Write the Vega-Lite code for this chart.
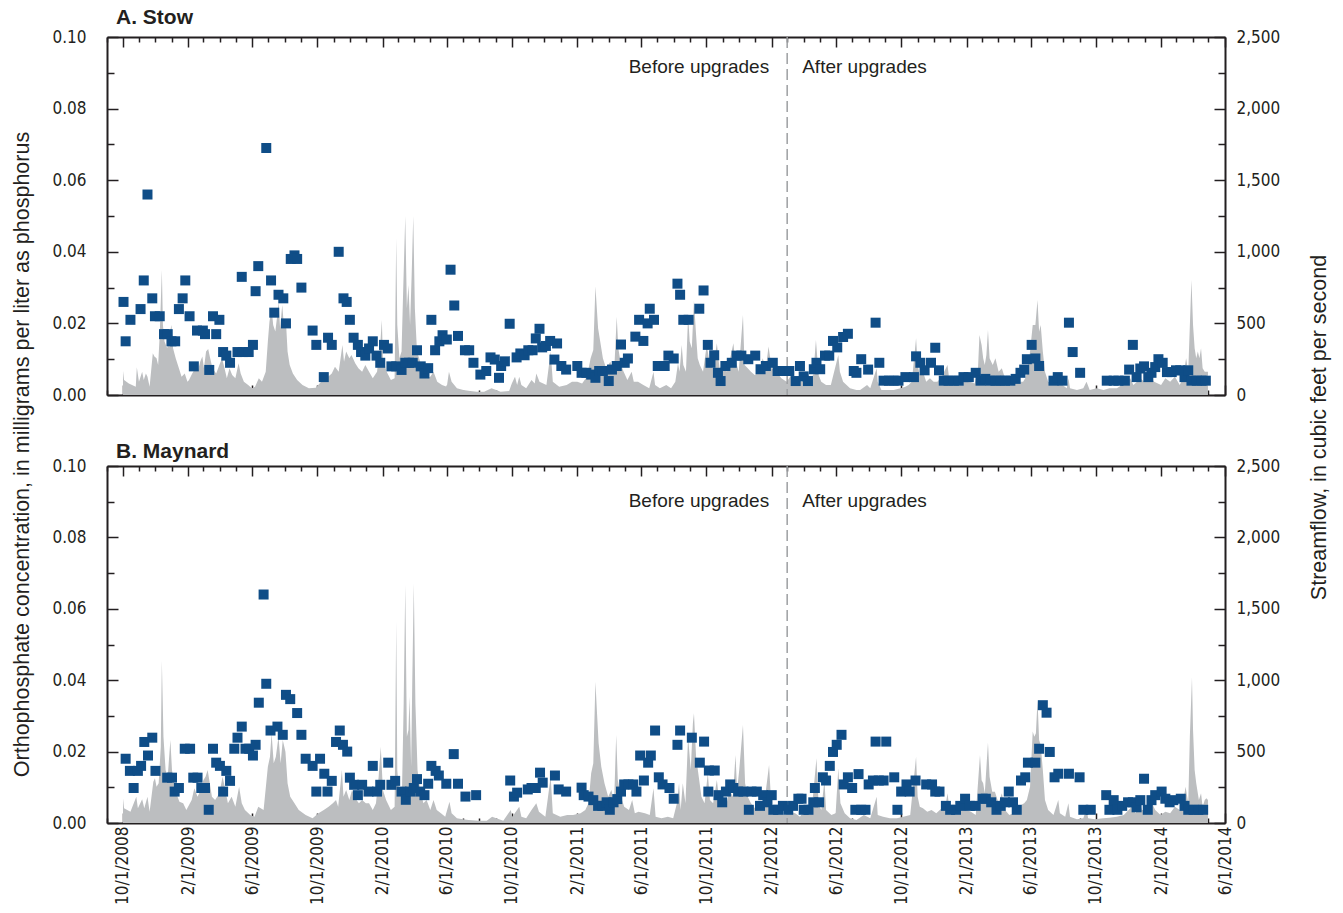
{
"$schema": "https://vega.github.io/schema/vega-lite/v6.json",
"padding": {"left": 11, "top": 7, "right": 5, "bottom": 5},
"background": "white",
"config": {"view": {"stroke": null}, "font": "Liberation Sans"},
"datasets": {
"upg": [{"d": "2012-03-01"}],
"stowC": [
{"d":"2008-10-02","c":0.026},{"d":"2008-10-06","c":0.015},{"d":"2008-10-15","c":0.021},{"d":"2008-11-03","c":0.024},{"d":"2008-11-09","c":0.032},{"d":"2008-11-16","c":0.056},{"d":"2008-11-25","c":0.027},{"d":"2008-11-30","c":0.022},{"d":"2008-12-09","c":0.022},{"d":"2008-12-17","c":0.017},{"d":"2008-12-24","c":0.017},{"d":"2008-12-31","c":0.015},{"d":"2009-01-07","c":0.015},{"d":"2009-01-14","c":0.024},{"d":"2009-01-21","c":0.027},{"d":"2009-01-26","c":0.032},{"d":"2009-02-03","c":0.022},{"d":"2009-02-11","c":0.008},{"d":"2009-02-17","c":0.018},{"d":"2009-02-28","c":0.018},{"d":"2009-03-04","c":0.017},{"d":"2009-03-12","c":0.007},{"d":"2009-03-19","c":0.022},{"d":"2009-03-25","c":0.017},{"d":"2009-03-31","c":0.021},{"d":"2009-04-07","c":0.012},{"d":"2009-04-13","c":0.011},{"d":"2009-04-20","c":0.009},{"d":"2009-05-04","c":0.012},{"d":"2009-05-12","c":0.033},{"d":"2009-05-14","c":0.012},{"d":"2009-05-25","c":0.012},{"d":"2009-06-02","c":0.014},{"d":"2009-06-07","c":0.029},{"d":"2009-06-12","c":0.036},{"d":"2009-06-27","c":0.069},{"d":"2009-07-06","c":0.032},{"d":"2009-07-12","c":0.023},{"d":"2009-07-20","c":0.028},{"d":"2009-07-29","c":0.027},{"d":"2009-08-03","c":0.020},{"d":"2009-08-12","c":0.038},{"d":"2009-08-19","c":0.039},{"d":"2009-08-24","c":0.038},{"d":"2009-09-01","c":0.030},{"d":"2009-09-22","c":0.018},{"d":"2009-09-29","c":0.014},{"d":"2009-10-13","c":0.005},{"d":"2009-10-21","c":0.016},{"d":"2009-10-28","c":0.014},{"d":"2009-11-10","c":0.040},{"d":"2009-11-19","c":0.027},{"d":"2009-11-25","c":0.026},{"d":"2009-12-01","c":0.021},{"d":"2009-12-08","c":0.016},{"d":"2009-12-16","c":0.014},{"d":"2009-12-22","c":0.012},{"d":"2009-12-30","c":0.011},{"d":"2010-01-06","c":0.013},{"d":"2010-01-13","c":0.015},{"d":"2010-01-20","c":0.011},{"d":"2010-01-27","c":0.009},{"d":"2010-02-03","c":0.014},{"d":"2010-02-10","c":0.013},{"d":"2010-02-17","c":0.008},{"d":"2010-02-26","c":0.008},{"d":"2010-03-08","c":0.007},{"d":"2010-03-15","c":0.009},{"d":"2010-03-22","c":0.009},{"d":"2010-03-29","c":0.009},{"d":"2010-04-06","c":0.0125},{"d":"2010-04-13","c":0.008},{"d":"2010-04-20","c":0.006},{"d":"2010-04-27","c":0.0075},{"d":"2010-05-03","c":0.021},{"d":"2010-05-10","c":0.0125},{"d":"2010-05-18","c":0.015},{"d":"2010-05-24","c":0.0167},{"d":"2010-06-01","c":0.0155},{"d":"2010-06-08","c":0.035},{"d":"2010-06-15","c":0.025},{"d":"2010-06-22","c":0.0165},{"d":"2010-07-05","c":0.0125},{"d":"2010-07-13","c":0.0125},{"d":"2010-07-21","c":0.009},{"d":"2010-08-03","c":0.0057},
{"d":"2010-08-14","c":0.0067},{"d":"2010-08-22","c":0.0105},{"d":"2010-08-30","c":0.0099},{"d":"2010-09-07","c":0.0048},{"d":"2010-09-11","c":0.0081},{"d":"2010-09-18","c":0.0094},{"d":"2010-09-27","c":0.0199},{"d":"2010-10-10","c":0.0105},{"d":"2010-10-17","c":0.0116},{"d":"2010-10-25","c":0.0111},{"d":"2010-11-01","c":0.0125},{"d":"2010-11-09","c":0.0125},{"d":"2010-11-15","c":0.0158},{"d":"2010-11-22","c":0.0185},{"d":"2010-11-27","c":0.0133},{"d":"2010-12-04","c":0.0137},{"d":"2010-12-12","c":0.0151},{"d":"2010-12-20","c":0.0099},{"d":"2010-12-25","c":0.0144},{"d":"2011-01-02","c":0.0081},{"d":"2011-01-11","c":0.0071},{"d":"2011-02-01","c":0.0081},{"d":"2011-02-09","c":0.0062},{"d":"2011-02-18","c":0.0062},{"d":"2011-02-27","c":0.0057},{"d":"2011-03-07","c":0.0048},{"d":"2011-03-14","c":0.0067},{"d":"2011-03-21","c":0.0067},{"d":"2011-04-01","c":0.0039},{"d":"2011-04-07","c":0.0071},{"d":"2011-04-16","c":0.0081},{"d":"2011-04-24","c":0.0141},{"d":"2011-05-01","c":0.0090},{"d":"2011-05-07","c":0.0102},{"d":"2011-05-21","c":0.0163},{"d":"2011-05-28","c":0.021},{"d":"2011-06-05","c":0.0151},{"d":"2011-06-13","c":0.020},{"d":"2011-06-17","c":0.0241},{"d":"2011-06-25","c":0.021},{"d":"2011-07-02","c":0.0081},{"d":"2011-07-15","c":0.0081},{"d":"2011-07-22","c":0.011},{"d":"2011-08-01","c":0.0102},{"d":"2011-08-08","c":0.0311},{"d":"2011-08-13","c":0.028},{"d":"2011-08-19","c":0.021},{"d":"2011-08-29","c":0.021},{"d":"2011-09-18","c":0.0241},{"d":"2011-09-26","c":0.0292},{"d":"2011-10-04","c":0.014},{"d":"2011-10-09","c":0.009},{"d":"2011-10-16","c":0.0111},{"d":"2011-10-23","c":0.0062},{"d":"2011-10-28","c":0.0039},{"d":"2011-11-06","c":0.0081},{"d":"2011-11-18","c":0.009},{"d":"2011-11-27","c":0.011},{"d":"2011-12-06","c":0.011},{"d":"2011-12-19","c":0.010},{"d":"2012-01-01","c":0.011},{"d":"2012-01-11","c":0.0072},{"d":"2012-01-21","c":0.0081},{"d":"2012-02-03","c":0.009},{"d":"2012-02-12","c":0.0067},{"d":"2012-02-23","c":0.0067},{"d":"2012-03-05","c":0.0067},{"d":"2012-03-17","c":0.0039},{"d":"2012-03-25","c":0.0081},{"d":"2012-04-01","c":0.0052},{"d":"2012-04-09","c":0.0039},{"d":"2012-04-20","c":0.0072},{"d":"2012-04-25","c":0.009},{"d":"2012-05-02","c":0.0072},{"d":"2012-05-11","c":0.011},{"d":"2012-05-19","c":0.011},{"d":"2012-05-26","c":0.0151},{"d":"2012-06-03","c":0.0133},{"d":"2012-06-14","c":0.0162},{"d":"2012-06-23","c":0.0171},{"d":"2012-07-04","c":0.0067},{"d":"2012-07-09","c":0.0062},{"d":"2012-07-18","c":0.010},
{"d":"2012-07-31","c":0.0071},{"d":"2012-08-14","c":0.0202},{"d":"2012-08-21","c":0.009},{"d":"2012-08-29","c":0.004},{"d":"2012-09-08","c":0.004},{"d":"2012-09-17","c":0.004},{"d":"2012-09-26","c":0.004},{"d":"2012-10-09","c":0.005},{"d":"2012-10-25","c":0.005},{"d":"2012-10-29","c":0.0108},{"d":"2012-11-06","c":0.009},{"d":"2012-11-14","c":0.0069},{"d":"2012-11-26","c":0.009},{"d":"2012-12-04","c":0.0132},{"d":"2012-12-11","c":0.0069},{"d":"2012-12-20","c":0.004},{"d":"2012-12-29","c":0.004},{"d":"2013-01-08","c":0.004},{"d":"2013-01-17","c":0.004},{"d":"2013-01-26","c":0.005},{"d":"2013-02-05","c":0.005},{"d":"2013-02-18","c":0.0062},{"d":"2013-02-27","c":0.004},{"d":"2013-03-08","c":0.0045},{"d":"2013-03-17","c":0.004},{"d":"2013-03-27","c":0.004},{"d":"2013-04-05","c":0.004},{"d":"2013-04-14","c":0.004},{"d":"2013-04-24","c":0.004},{"d":"2013-05-04","c":0.0045},{"d":"2013-05-13","c":0.0062},{"d":"2013-05-20","c":0.0071},{"d":"2013-05-25","c":0.010},{"d":"2013-06-03","c":0.014},{"d":"2013-06-10","c":0.0102},{"d":"2013-06-17","c":0.0081},{"d":"2013-07-14","c":0.004},{"d":"2013-07-22","c":0.005},{"d":"2013-07-31","c":0.004},{"d":"2013-08-12","c":0.0202},{"d":"2013-08-19","c":0.012},{"d":"2013-09-02","c":0.0062},{"d":"2013-10-22","c":0.004},{"d":"2013-11-04","c":0.004},{"d":"2013-11-13","c":0.004},{"d":"2013-11-25","c":0.004},{"d":"2013-12-03","c":0.0071},{"d":"2013-12-10","c":0.014},{"d":"2013-12-17","c":0.005},{"d":"2013-12-24","c":0.0074},{"d":"2013-12-31","c":0.008},{"d":"2014-01-08","c":0.005},{"d":"2014-01-14","c":0.0062},{"d":"2014-01-21","c":0.0078},{"d":"2014-01-27","c":0.010},{"d":"2014-02-04","c":0.009},{"d":"2014-02-12","c":0.0064},{"d":"2014-02-21","c":0.0064},{"d":"2014-03-01","c":0.0069},{"d":"2014-03-09","c":0.0069},{"d":"2014-03-17","c":0.005},{"d":"2014-03-24","c":0.0069},{"d":"2014-03-30","c":0.004},{"d":"2014-04-09","c":0.004},{"d":"2014-04-18","c":0.004},{"d":"2014-04-26","c":0.004}
],
"stowQ": [
{"d":"2008-10-01","q":170},{"d":"2008-10-03","q":105},{"d":"2008-10-12","q":80},{"d":"2008-10-25","q":58},{"d":"2008-10-27","q":193},{"d":"2008-10-31","q":93},{"d":"2008-11-06","q":163},{"d":"2008-11-09","q":105},{"d":"2008-11-13","q":151},{"d":"2008-11-16","q":128},{"d":"2008-11-20","q":58},{"d":"2008-11-26","q":291},{"d":"2008-11-29","q":268},{"d":"2008-12-03","q":256},{"d":"2008-12-06","q":210},{"d":"2008-12-09","q":420},{"d":"2008-12-13","q":873},{"d":"2008-12-15","q":489},{"d":"2008-12-18","q":373},{"d":"2008-12-23","q":326},{"d":"2008-12-27","q":419},{"d":"2008-12-31","q":489},{"d":"2009-01-03","q":326},{"d":"2009-01-08","q":256},{"d":"2009-01-14","q":186},{"d":"2009-01-19","q":128},{"d":"2009-01-25","q":151},{"d":"2009-01-30","q":93},{"d":"2009-02-02","q":105},{"d":"2009-02-08","q":151},{"d":"2009-02-10","q":163},{"d":"2009-02-14","q":210},{"d":"2009-02-19","q":175},{"d":"2009-02-23","q":233},{"d":"2009-02-27","q":268},{"d":"2009-03-02","q":186},{"d":"2009-03-06","q":303},{"d":"2009-03-10","q":321},{"d":"2009-03-13","q":268},{"d":"2009-03-18","q":186},{"d":"2009-03-25","q":151},{"d":"2009-03-31","q":210},{"d":"2009-04-05","q":256},{"d":"2009-04-09","q":198},{"d":"2009-04-14","q":117},{"d":"2009-04-19","q":186},{"d":"2009-04-24","q":140},{"d":"2009-04-30","q":117},{"d":"2009-05-06","q":221},{"d":"2009-05-10","q":151},{"d":"2009-05-16","q":93},{"d":"2009-05-24","q":70},{"d":"2009-05-31","q":47},{"d":"2009-06-06","q":58},{"d":"2009-06-13","q":117},{"d":"2009-06-19","q":93},{"d":"2009-06-26","q":163},{"d":"2009-06-30","q":373},{"d":"2009-07-03","q":512},{"d":"2009-07-07","q":605},{"d":"2009-07-10","q":489},{"d":"2009-07-14","q":443},{"d":"2009-07-17","q":536},{"d":"2009-07-20","q":652},{"d":"2009-07-23","q":466},{"d":"2009-07-27","q":629},{"d":"2009-07-30","q":489},{"d":"2009-08-03","q":512},{"d":"2009-08-06","q":303},{"d":"2009-08-10","q":210},{"d":"2009-08-16","q":151},{"d":"2009-08-24","q":105},{"d":"2009-09-03","q":70},{"d":"2009-09-15","q":47},{"d":"2009-09-28","q":51},{"d":"2009-10-08","q":93},{"d":"2009-10-14","q":117},{"d":"2009-10-21","q":128},{"d":"2009-10-28","q":151},{"d":"2009-11-03","q":198},{"d":"2009-11-10","q":163},{"d":"2009-11-17","q":349},{"d":"2009-11-20","q":233},{"d":"2009-11-24","q":303},{"d":"2009-11-30","q":256},{"d":"2009-12-04","q":280},{"d":"2009-12-11","q":221},{"d":"2009-12-17","q":186},{"d":"2009-12-24","q":163},{"d":"2009-12-30","q":210},{"d":"2010-01-06","q":163},{"d":"2010-01-13","q":117},{"d":"2010-01-21","q":163},{"d":"2010-01-27","q":349},{"d":"2010-01-30","q":524},{"d":"2010-02-01","q":256},{"d":"2010-02-08","q":163},{"d":"2010-02-16","q":105},{"d":"2010-02-23","q":117},{"d":"2010-02-26","q":1095},{"d":"2010-02-28","q":489},{"d":"2010-03-04","q":256},{"d":"2010-03-08","q":303},{"d":"2010-03-11","q":722},{"d":"2010-03-15","q":1250},{"d":"2010-03-18","q":605},{"d":"2010-03-21","q":768},{"d":"2010-03-24","q":489},{"d":"2010-03-27","q":838},{"d":"2010-03-30","q":1250},{"d":"2010-04-02","q":605},{"d":"2010-04-06","q":303},{"d":"2010-04-12","q":233},{"d":"2010-04-18","q":163},{"d":"2010-04-24","q":117},{"d":"2010-05-01","q":128},{"d":"2010-05-07","q":163},{"d":"2010-05-14","q":93},{"d":"2010-05-23","q":70},{"d":"2010-06-01","q":58},{"d":"2010-06-05","q":163},{"d":"2010-06-10","q":93},{"d":"2010-06-20","q":47},{"d":"2010-07-02","q":35},{"d":"2010-07-15","q":28},{"d":"2010-07-27","q":23},
{"d":"2010-08-10","q":23},{"d":"2010-08-24","q":47},{"d":"2010-09-10","q":23},{"d":"2010-09-26","q":28},{"d":"2010-10-01","q":81},{"d":"2010-10-07","q":128},{"d":"2010-10-11","q":70},{"d":"2010-10-15","q":128},{"d":"2010-10-19","q":70},{"d":"2010-10-28","q":47},{"d":"2010-11-07","q":105},{"d":"2010-11-13","q":81},{"d":"2010-11-16","q":151},{"d":"2010-11-22","q":93},{"d":"2010-12-05","q":70},{"d":"2010-12-13","q":303},{"d":"2010-12-17","q":93},{"d":"2010-12-29","q":58},{"d":"2011-01-12","q":70},{"d":"2011-01-22","q":93},{"d":"2011-02-01","q":93},{"d":"2011-02-10","q":81},{"d":"2011-02-19","q":128},{"d":"2011-02-26","q":256},{"d":"2011-03-03","q":314},{"d":"2011-03-07","q":760},{"d":"2011-03-10","q":582},{"d":"2011-03-12","q":466},{"d":"2011-03-16","q":373},{"d":"2011-03-21","q":256},{"d":"2011-03-27","q":186},{"d":"2011-04-04","q":233},{"d":"2011-04-11","q":151},{"d":"2011-04-16","q":547},{"d":"2011-04-19","q":326},{"d":"2011-04-24","q":210},{"d":"2011-04-29","q":163},{"d":"2011-05-06","q":105},{"d":"2011-05-14","q":163},{"d":"2011-05-18","q":93},{"d":"2011-05-26","q":93},{"d":"2011-06-05","q":70},{"d":"2011-06-16","q":47},{"d":"2011-06-24","q":163},{"d":"2011-06-27","q":70},{"d":"2011-07-06","q":47},{"d":"2011-07-18","q":70},{"d":"2011-07-27","q":47},{"d":"2011-08-04","q":93},{"d":"2011-08-09","q":221},{"d":"2011-08-12","q":163},{"d":"2011-08-16","q":349},{"d":"2011-08-19","q":210},{"d":"2011-08-24","q":163},{"d":"2011-08-28","q":559},{"d":"2011-08-31","q":373},{"d":"2011-09-04","q":326},{"d":"2011-09-08","q":660},{"d":"2011-09-12","q":419},{"d":"2011-09-15","q":256},{"d":"2011-09-19","q":210},{"d":"2011-09-25","q":163},{"d":"2011-10-02","q":349},{"d":"2011-10-08","q":210},{"d":"2011-10-14","q":186},{"d":"2011-10-21","q":361},{"d":"2011-10-26","q":186},{"d":"2011-11-02","q":210},{"d":"2011-11-09","q":163},{"d":"2011-11-15","q":256},{"d":"2011-11-21","q":361},{"d":"2011-11-24","q":256},{"d":"2011-12-01","q":163},{"d":"2011-12-09","q":559},{"d":"2011-12-12","q":210},{"d":"2011-12-18","q":186},{"d":"2011-12-24","q":163},{"d":"2011-12-31","q":140},{"d":"2012-01-09","q":163},{"d":"2012-01-15","q":256},{"d":"2012-01-21","q":186},{"d":"2012-01-26","q":338},{"d":"2012-02-01","q":186},{"d":"2012-02-10","q":163},{"d":"2012-02-19","q":117},{"d":"2012-02-29","q":93},{"d":"2012-03-09","q":140},{"d":"2012-03-18","q":117},{"d":"2012-03-28","q":93},{"d":"2012-04-07","q":163},{"d":"2012-04-13","q":117},{"d":"2012-04-19","q":140},{"d":"2012-04-24","q":384},{"d":"2012-04-29","q":140},{"d":"2012-05-04","q":93},{"d":"2012-05-13","q":70},{"d":"2012-05-22","q":70},{"d":"2012-06-05","q":279},{"d":"2012-06-08","q":163},{"d":"2012-06-14","q":93},{"d":"2012-06-27","q":47},
{"d":"2012-07-09","q":35},{"d":"2012-07-16","q":35},{"d":"2012-07-29","q":70},{"d":"2012-08-04","q":47},{"d":"2012-08-16","q":186},{"d":"2012-08-18","q":93},{"d":"2012-08-25","q":35},{"d":"2012-09-04","q":35},{"d":"2012-09-17","q":35},{"d":"2012-09-30","q":47},{"d":"2012-10-09","q":58},{"d":"2012-10-15","q":70},{"d":"2012-10-21","q":93},{"d":"2012-10-29","q":396},{"d":"2012-11-01","q":210},{"d":"2012-11-05","q":140},{"d":"2012-11-11","q":163},{"d":"2012-11-17","q":93},{"d":"2012-11-24","q":117},{"d":"2012-12-01","q":93},{"d":"2012-12-08","q":93},{"d":"2012-12-16","q":128},{"d":"2012-12-27","q":210},{"d":"2012-12-30","q":117},{"d":"2013-01-07","q":81},{"d":"2013-01-19","q":93},{"d":"2013-01-27","q":163},{"d":"2013-02-01","q":105},{"d":"2013-02-07","q":93},{"d":"2013-02-16","q":81},{"d":"2013-02-22","q":163},{"d":"2013-02-25","q":419},{"d":"2013-03-01","q":349},{"d":"2013-03-04","q":256},{"d":"2013-03-07","q":210},{"d":"2013-03-10","q":280},{"d":"2013-03-13","q":454},{"d":"2013-03-16","q":256},{"d":"2013-03-19","q":233},{"d":"2013-03-22","q":210},{"d":"2013-03-27","q":256},{"d":"2013-04-02","q":163},{"d":"2013-04-08","q":186},{"d":"2013-04-12","q":140},{"d":"2013-04-17","q":93},{"d":"2013-04-24","q":70},{"d":"2013-04-30","q":93},{"d":"2013-05-06","q":117},{"d":"2013-05-12","q":93},{"d":"2013-05-18","q":93},{"d":"2013-05-22","q":117},{"d":"2013-05-26","q":163},{"d":"2013-05-31","q":303},{"d":"2013-06-05","q":489},{"d":"2013-06-10","q":489},{"d":"2013-06-14","q":664},{"d":"2013-06-17","q":442},{"d":"2013-06-20","q":489},{"d":"2013-06-24","q":303},{"d":"2013-06-28","q":163},{"d":"2013-07-04","q":93},{"d":"2013-07-14","q":70},{"d":"2013-07-23","q":140},{"d":"2013-07-27","q":81},{"d":"2013-08-08","q":47},{"d":"2013-08-11","q":117},{"d":"2013-08-14","q":47},{"d":"2013-08-27","q":35},{"d":"2013-09-08","q":47},{"d":"2013-09-14","q":93},{"d":"2013-09-20","q":35},{"d":"2013-10-03","q":47},{"d":"2013-10-16","q":35},{"d":"2013-10-27","q":47},{"d":"2013-11-10","q":47},{"d":"2013-11-29","q":93},{"d":"2013-12-05","q":117},{"d":"2013-12-11","q":70},{"d":"2013-12-18","q":93},{"d":"2013-12-24","q":117},{"d":"2013-12-31","q":93},{"d":"2014-01-06","q":163},{"d":"2014-01-12","q":128},{"d":"2014-01-19","q":93},{"d":"2014-02-01","q":70},{"d":"2014-02-09","q":117},{"d":"2014-02-18","q":93},{"d":"2014-02-27","q":128},{"d":"2014-03-08","q":70},{"d":"2014-03-14","q":117},{"d":"2014-03-20","q":256},{"d":"2014-03-24","q":163},{"d":"2014-03-30","q":803},{"d":"2014-04-02","q":489},{"d":"2014-04-05","q":326},{"d":"2014-04-08","q":256},{"d":"2014-04-11","q":303},{"d":"2014-04-14","q":256},{"d":"2014-04-17","q":326},{"d":"2014-04-20","q":186},{"d":"2014-04-24","q":163},{"d":"2014-04-28","q":163},{"d":"2014-04-30","q":163}
],
"mayC": [
{"d":"2008-10-06","c":0.018},{"d":"2008-10-14","c":0.0146},{"d":"2008-10-21","c":0.0098},{"d":"2008-10-29","c":0.0146},{"d":"2008-11-04","c":0.016},{"d":"2008-11-10","c":0.0227},{"d":"2008-11-17","c":0.0189},{"d":"2008-11-25","c":0.0239},{"d":"2008-12-01","c":0.0146},{"d":"2008-12-23","c":0.0127},{"d":"2009-01-01","c":0.0127},{"d":"2009-01-06","c":0.0088},{"d":"2009-01-14","c":0.0098},{"d":"2009-01-25","c":0.0208},{"d":"2009-02-04","c":0.0208},{"d":"2009-02-10","c":0.0127},{"d":"2009-02-18","c":0.0127},{"d":"2009-02-25","c":0.0098},{"d":"2009-03-04","c":0.0098},{"d":"2009-03-11","c":0.0037},{"d":"2009-03-19","c":0.0208},{"d":"2009-03-25","c":0.0169},{"d":"2009-04-01","c":0.016},{"d":"2009-04-07","c":0.0088},{"d":"2009-04-13","c":0.0146},{"d":"2009-04-20","c":0.0118},{"d":"2009-04-28","c":0.0208},{"d":"2009-05-04","c":0.0239},{"d":"2009-05-12","c":0.027},{"d":"2009-05-19","c":0.0208},{"d":"2009-05-26","c":0.0208},{"d":"2009-06-02","c":0.0189},{"d":"2009-06-07","c":0.0219},{"d":"2009-06-13","c":0.0337},{"d":"2009-06-22","c":0.064},{"d":"2009-06-27","c":0.039},{"d":"2009-07-05","c":0.0259},{"d":"2009-07-18","c":0.027},{"d":"2009-07-28","c":0.0247},{"d":"2009-08-03","c":0.0359},{"d":"2009-08-11","c":0.0347},{"d":"2009-08-24","c":0.0308},{"d":"2009-09-01","c":0.0247},{"d":"2009-09-09","c":0.018},{"d":"2009-09-22","c":0.016},{"d":"2009-09-29","c":0.0088},{"d":"2009-10-06","c":0.018},{"d":"2009-10-14","c":0.0138},{"d":"2009-10-20","c":0.0088},{"d":"2009-10-28","c":0.0118},{"d":"2009-11-05","c":0.0227},{"d":"2009-11-12","c":0.0259},{"d":"2009-11-18","c":0.0219},{"d":"2009-11-26","c":0.020},{"d":"2009-12-01","c":0.0127},{"d":"2009-12-09","c":0.0107},{"d":"2009-12-16","c":0.0078},{"d":"2009-12-24","c":0.0107},{"d":"2010-01-05","c":0.0088},{"d":"2010-01-13","c":0.016},{"d":"2010-01-21","c":0.0088},{"d":"2010-01-27","c":0.0107},{"d":"2010-02-11","c":0.0169},{"d":"2010-02-17","c":0.0107},{"d":"2010-02-24","c":0.0118},{"d":"2010-03-08","c":0.0088},{"d":"2010-03-16","c":0.0065},{"d":"2010-03-24","c":0.0088},{"d":"2010-03-31","c":0.0098},{"d":"2010-04-06","c":0.0123},{"d":"2010-04-12","c":0.0088},{"d":"2010-04-20","c":0.0078},{"d":"2010-04-27","c":0.011},{"d":"2010-05-03","c":0.016},{"d":"2010-05-11","c":0.0146},{"d":"2010-05-17","c":0.0133},{"d":"2010-05-31","c":0.011},{"d":"2010-06-14","c":0.0193},{"d":"2010-06-22","c":0.011},{"d":"2010-07-06","c":0.0074},{"d":"2010-07-26","c":0.0078},
{"d":"2010-09-28","c":0.0119},{"d":"2010-10-05","c":0.0074},{"d":"2010-10-11","c":0.0085},{"d":"2010-10-31","c":0.0094},{"d":"2010-11-07","c":0.0098},{"d":"2010-11-15","c":0.0098},{"d":"2010-11-23","c":0.0141},{"d":"2010-11-28","c":0.0113},{"d":"2010-12-21","c":0.0133},{"d":"2010-12-28","c":0.0094},{"d":"2011-01-11","c":0.0088},{"d":"2011-02-09","c":0.0099},{"d":"2011-02-13","c":0.0078},{"d":"2011-02-22","c":0.0074},{"d":"2011-03-03","c":0.0064},{"d":"2011-03-12","c":0.0048},{"d":"2011-03-20","c":0.0048},{"d":"2011-03-28","c":0.0058},{"d":"2011-04-03","c":0.0037},{"d":"2011-04-10","c":0.0058},{"d":"2011-04-17","c":0.0067},{"d":"2011-04-24","c":0.0088},{"d":"2011-04-30","c":0.0108},{"d":"2011-05-08","c":0.0108},{"d":"2011-05-17","c":0.0108},{"d":"2011-05-23","c":0.0088},{"d":"2011-05-30","c":0.0189},{"d":"2011-06-06","c":0.0119},{"d":"2011-06-14","c":0.0169},{"d":"2011-06-19","c":0.0189},{"d":"2011-06-27","c":0.0259},{"d":"2011-07-04","c":0.0128},{"d":"2011-07-11","c":0.0108},{"d":"2011-07-24","c":0.0098},{"d":"2011-08-01","c":0.0068},{"d":"2011-08-08","c":0.0219},{"d":"2011-08-13","c":0.0259},{"d":"2011-09-04","c":0.0239},{"d":"2011-09-19","c":0.0169},{"d":"2011-09-27","c":0.0228},{"d":"2011-10-05","c":0.0088},{"d":"2011-10-06","c":0.0147},{"d":"2011-10-17","c":0.0147},{"d":"2011-10-24","c":0.0078},{"d":"2011-10-31","c":0.0058},{"d":"2011-11-07","c":0.0088},{"d":"2011-11-15","c":0.0108},{"d":"2011-11-21","c":0.0098},{"d":"2011-11-30","c":0.0088},{"d":"2011-12-10","c":0.0088},{"d":"2011-12-20","c":0.0037},{"d":"2011-12-25","c":0.0088},{"d":"2012-01-04","c":0.0088},{"d":"2012-01-10","c":0.0048},{"d":"2012-01-16","c":0.0078},{"d":"2012-01-24","c":0.0058},{"d":"2012-02-01","c":0.0078},{"d":"2012-02-04","c":0.0037},{"d":"2012-02-13","c":0.0037},{"d":"2012-02-22","c":0.0048},{"d":"2012-03-03","c":0.0037},{"d":"2012-03-12","c":0.0048},{"d":"2012-03-22","c":0.0068},{"d":"2012-03-28","c":0.0068},{"d":"2012-04-01","c":0.0037},{"d":"2012-04-10","c":0.0037},{"d":"2012-04-19","c":0.0058},{"d":"2012-04-22","c":0.0098},{"d":"2012-04-30","c":0.0058},{"d":"2012-05-07","c":0.0128},{"d":"2012-05-13","c":0.0119},{"d":"2012-05-20","c":0.016},{"d":"2012-05-26","c":0.0199},{"d":"2012-06-02","c":0.0219},{"d":"2012-06-11","c":0.0247},{"d":"2012-06-15","c":0.0108},{"d":"2012-06-23","c":0.0128},{"d":"2012-07-01","c":0.0098},{"d":"2012-07-07","c":0.0037},{"d":"2012-07-13","c":0.0137},{"d":"2012-07-18","c":0.0037},{"d":"2012-07-26","c":0.0037},
{"d":"2012-08-01","c":0.0108},{"d":"2012-08-09","c":0.0119},{"d":"2012-08-14","c":0.0228},{"d":"2012-08-20","c":0.0119},{"d":"2012-08-29","c":0.0119},{"d":"2012-09-03","c":0.0228},{"d":"2012-09-18","c":0.0128},{"d":"2012-09-24","c":0.0037},{"d":"2012-10-01","c":0.0088},{"d":"2012-10-11","c":0.0108},{"d":"2012-10-17","c":0.0088},{"d":"2012-10-28","c":0.0119},{"d":"2012-11-17","c":0.0108},{"d":"2012-11-28","c":0.0108},{"d":"2012-12-04","c":0.0088},{"d":"2012-12-12","c":0.0088},{"d":"2012-12-24","c":0.0048},{"d":"2013-01-01","c":0.0037},{"d":"2013-01-12","c":0.0037},{"d":"2013-01-20","c":0.0048},{"d":"2013-01-29","c":0.0068},{"d":"2013-02-07","c":0.0048},{"d":"2013-02-18","c":0.0048},{"d":"2013-03-03","c":0.0068},{"d":"2013-03-09","c":0.0068},{"d":"2013-03-19","c":0.0058},{"d":"2013-03-29","c":0.0037},{"d":"2013-04-06","c":0.0048},{"d":"2013-04-14","c":0.0058},{"d":"2013-04-21","c":0.0088},{"d":"2013-04-29","c":0.0058},{"d":"2013-05-06","c":0.0037},{"d":"2013-05-14","c":0.0119},{"d":"2013-05-22","c":0.0128},{"d":"2013-05-27","c":0.0169},{"d":"2013-06-10","c":0.0169},{"d":"2013-06-17","c":0.0208},{"d":"2013-06-24","c":0.033},{"d":"2013-07-01","c":0.0309},{"d":"2013-07-07","c":0.0199},{"d":"2013-07-16","c":0.0128},{"d":"2013-07-23","c":0.0138},{"d":"2013-08-12","c":0.0138},{"d":"2013-09-01","c":0.0128},{"d":"2013-09-08","c":0.0037},{"d":"2013-09-22","c":0.0037},{"d":"2013-10-21","c":0.0078},{"d":"2013-10-27","c":0.0037},{"d":"2013-11-04","c":0.0064},{"d":"2013-11-11","c":0.0037},{"d":"2013-11-20","c":0.0048},{"d":"2013-12-01","c":0.0058},{"d":"2013-12-10","c":0.0058},{"d":"2013-12-17","c":0.0044},{"d":"2013-12-24","c":0.0064},{"d":"2013-12-31","c":0.0124},{"d":"2014-01-07","c":0.0037},{"d":"2014-01-14","c":0.0064},{"d":"2014-01-21","c":0.0078},{"d":"2014-02-02","c":0.0088},{"d":"2014-02-09","c":0.0068},{"d":"2014-02-17","c":0.0058},{"d":"2014-02-24","c":0.0064},{"d":"2014-03-10","c":0.0068},{"d":"2014-03-17","c":0.0048},{"d":"2014-03-24","c":0.0037},{"d":"2014-04-03","c":0.0037},{"d":"2014-04-12","c":0.0037},{"d":"2014-04-21","c":0.0037}
],
"mayQ": [
{"d":"2008-10-01","q":173},{"d":"2008-10-03","q":103},{"d":"2008-10-15","q":79},{"d":"2008-10-26","q":184},{"d":"2008-10-29","q":103},{"d":"2008-11-06","q":166},{"d":"2008-11-10","q":103},{"d":"2008-11-16","q":184},{"d":"2008-11-20","q":79},{"d":"2008-11-27","q":289},{"d":"2008-11-30","q":313},{"d":"2008-12-03","q":254},{"d":"2008-12-07","q":278},{"d":"2008-12-11","q":534},{"d":"2008-12-13","q":1137},{"d":"2008-12-16","q":604},{"d":"2008-12-20","q":371},{"d":"2008-12-24","q":324},{"d":"2008-12-29","q":581},{"d":"2009-01-01","q":371},{"d":"2009-01-05","q":278},{"d":"2009-01-09","q":208},{"d":"2009-01-15","q":149},{"d":"2009-01-22","q":138},{"d":"2009-01-28","q":91},{"d":"2009-02-02","q":126},{"d":"2009-02-07","q":161},{"d":"2009-02-12","q":243},{"d":"2009-02-18","q":184},{"d":"2009-02-24","q":231},{"d":"2009-03-01","q":301},{"d":"2009-03-05","q":324},{"d":"2009-03-09","q":371},{"d":"2009-03-12","q":301},{"d":"2009-03-17","q":184},{"d":"2009-03-23","q":161},{"d":"2009-03-31","q":208},{"d":"2009-04-06","q":324},{"d":"2009-04-10","q":254},{"d":"2009-04-16","q":138},{"d":"2009-04-23","q":184},{"d":"2009-04-30","q":114},{"d":"2009-05-07","q":254},{"d":"2009-05-12","q":138},{"d":"2009-05-18","q":91},{"d":"2009-05-28","q":56},{"d":"2009-06-05","q":44},{"d":"2009-06-12","q":114},{"d":"2009-06-22","q":91},{"d":"2009-06-30","q":394},{"d":"2009-07-04","q":464},{"d":"2009-07-07","q":628},{"d":"2009-07-11","q":418},{"d":"2009-07-15","q":464},{"d":"2009-07-20","q":604},{"d":"2009-07-24","q":418},{"d":"2009-07-28","q":581},{"d":"2009-08-02","q":499},{"d":"2009-08-06","q":278},{"d":"2009-08-11","q":184},{"d":"2009-08-19","q":138},{"d":"2009-08-27","q":91},{"d":"2009-09-09","q":56},{"d":"2009-09-22","q":33},{"d":"2009-10-03","q":68},{"d":"2009-10-13","q":91},{"d":"2009-10-22","q":114},{"d":"2009-10-30","q":138},{"d":"2009-11-05","q":161},{"d":"2009-11-09","q":114},{"d":"2009-11-16","q":371},{"d":"2009-11-19","q":184},{"d":"2009-11-24","q":231},{"d":"2009-11-30","q":161},{"d":"2009-12-05","q":231},{"d":"2009-12-11","q":173},{"d":"2009-12-18","q":138},{"d":"2009-12-24","q":161},{"d":"2009-12-31","q":138},{"d":"2010-01-06","q":138},{"d":"2010-01-13","q":91},{"d":"2010-01-19","q":138},{"d":"2010-01-24","q":324},{"d":"2010-01-28","q":534},{"d":"2010-02-01","q":231},{"d":"2010-02-07","q":161},{"d":"2010-02-16","q":91},{"d":"2010-02-23","q":114},{"d":"2010-02-26","q":1410},{"d":"2010-02-28","q":371},{"d":"2010-03-04","q":184},{"d":"2010-03-09","q":254},{"d":"2010-03-12","q":838},{"d":"2010-03-15","q":1666},{"d":"2010-03-18","q":604},{"d":"2010-03-21","q":651},{"d":"2010-03-23","q":885},{"d":"2010-03-26","q":394},{"d":"2010-03-28","q":955},{"d":"2010-03-31","q":1678},{"d":"2010-04-03","q":838},{"d":"2010-04-07","q":371},{"d":"2010-04-12","q":231},{"d":"2010-04-18","q":138},{"d":"2010-04-24","q":161},{"d":"2010-05-01","q":91},{"d":"2010-05-07","q":161},{"d":"2010-05-13","q":91},{"d":"2010-05-21","q":68},{"d":"2010-05-29","q":44},{"d":"2010-06-06","q":149},{"d":"2010-06-10","q":68},{"d":"2010-06-20","q":33},{"d":"2010-07-01","q":26},{"d":"2010-07-12","q":21},{"d":"2010-07-31","q":16},
{"d":"2010-08-15","q":16},{"d":"2010-08-25","q":44},{"d":"2010-09-15","q":16},{"d":"2010-09-29","q":91},{"d":"2010-10-02","q":44},{"d":"2010-10-15","q":114},{"d":"2010-10-19","q":44},{"d":"2010-10-28","q":33},{"d":"2010-11-07","q":91},{"d":"2010-11-16","q":138},{"d":"2010-11-21","q":79},{"d":"2010-12-03","q":44},{"d":"2010-12-13","q":324},{"d":"2010-12-17","q":68},{"d":"2010-12-31","q":44},{"d":"2011-01-13","q":56},{"d":"2011-01-24","q":56},{"d":"2011-02-07","q":68},{"d":"2011-02-16","q":91},{"d":"2011-02-22","q":138},{"d":"2011-02-27","q":348},{"d":"2011-03-03","q":418},{"d":"2011-03-07","q":990},{"d":"2011-03-10","q":768},{"d":"2011-03-13","q":558},{"d":"2011-03-18","q":394},{"d":"2011-03-24","q":278},{"d":"2011-03-31","q":184},{"d":"2011-04-06","q":231},{"d":"2011-04-11","q":138},{"d":"2011-04-15","q":616},{"d":"2011-04-18","q":301},{"d":"2011-04-24","q":184},{"d":"2011-04-30","q":114},{"d":"2011-05-09","q":91},{"d":"2011-05-15","q":161},{"d":"2011-05-20","q":68},{"d":"2011-05-27","q":79},{"d":"2011-06-08","q":68},{"d":"2011-06-17","q":56},{"d":"2011-06-24","q":243},{"d":"2011-06-28","q":44},{"d":"2011-07-09","q":33},{"d":"2011-07-21","q":44},{"d":"2011-07-31","q":33},{"d":"2011-08-07","q":138},{"d":"2011-08-11","q":278},{"d":"2011-08-14","q":91},{"d":"2011-08-18","q":278},{"d":"2011-08-23","q":138},{"d":"2011-08-28","q":604},{"d":"2011-09-02","q":371},{"d":"2011-09-06","q":698},{"d":"2011-09-08","q":768},{"d":"2011-09-12","q":464},{"d":"2011-09-17","q":324},{"d":"2011-09-22","q":184},{"d":"2011-09-28","q":138},{"d":"2011-10-04","q":348},{"d":"2011-10-08","q":161},{"d":"2011-10-14","q":138},{"d":"2011-10-21","q":301},{"d":"2011-10-26","q":138},{"d":"2011-11-01","q":161},{"d":"2011-11-07","q":114},{"d":"2011-11-14","q":231},{"d":"2011-11-20","q":184},{"d":"2011-11-25","q":476},{"d":"2011-11-28","q":231},{"d":"2011-12-02","q":371},{"d":"2011-12-09","q":686},{"d":"2011-12-13","q":278},{"d":"2011-12-18","q":184},{"d":"2011-12-24","q":138},{"d":"2012-01-03","q":91},{"d":"2012-01-10","q":114},{"d":"2012-01-18","q":138},{"d":"2012-01-27","q":406},{"d":"2012-01-31","q":138},{"d":"2012-02-07","q":91},{"d":"2012-02-17","q":68},{"d":"2012-02-26","q":56},{"d":"2012-03-06","q":79},{"d":"2012-03-16","q":68},{"d":"2012-03-25","q":44},{"d":"2012-04-03","q":91},{"d":"2012-04-10","q":68},{"d":"2012-04-16","q":91},{"d":"2012-04-25","q":453},{"d":"2012-04-29","q":138},{"d":"2012-05-04","q":91},{"d":"2012-05-10","q":301},{"d":"2012-05-13","q":91},{"d":"2012-05-23","q":56},{"d":"2012-05-31","q":68},{"d":"2012-06-05","q":383},{"d":"2012-06-09","q":138},{"d":"2012-06-17","q":68},{"d":"2012-06-27","q":33},
{"d":"2012-07-09","q":21},{"d":"2012-07-23","q":56},{"d":"2012-08-04","q":33},{"d":"2012-08-16","q":184},{"d":"2012-08-18","q":56},{"d":"2012-08-28","q":44},{"d":"2012-09-10","q":33},{"d":"2012-09-23","q":33},{"d":"2012-10-05","q":44},{"d":"2012-10-18","q":56},{"d":"2012-10-29","q":464},{"d":"2012-11-01","q":184},{"d":"2012-11-05","q":114},{"d":"2012-11-11","q":103},{"d":"2012-11-19","q":79},{"d":"2012-11-27","q":91},{"d":"2012-12-06","q":68},{"d":"2012-12-16","q":103},{"d":"2012-12-22","q":91},{"d":"2012-12-27","q":208},{"d":"2012-12-31","q":91},{"d":"2013-01-10","q":68},{"d":"2013-01-19","q":79},{"d":"2013-01-27","q":138},{"d":"2013-02-01","q":91},{"d":"2013-02-09","q":79},{"d":"2013-02-18","q":56},{"d":"2013-02-26","q":476},{"d":"2013-03-01","q":300},{"d":"2013-03-04","q":278},{"d":"2013-03-07","q":208},{"d":"2013-03-13","q":563},{"d":"2013-03-16","q":324},{"d":"2013-03-21","q":219},{"d":"2013-03-26","q":219},{"d":"2013-04-02","q":138},{"d":"2013-04-08","q":208},{"d":"2013-04-14","q":91},{"d":"2013-04-22","q":56},{"d":"2013-04-30","q":68},{"d":"2013-05-06","q":91},{"d":"2013-05-14","q":126},{"d":"2013-05-20","q":138},{"d":"2013-05-25","q":161},{"d":"2013-05-31","q":254},{"d":"2013-06-05","q":640},{"d":"2013-06-08","q":604},{"d":"2013-06-11","q":628},{"d":"2013-06-14","q":861},{"d":"2013-06-17","q":581},{"d":"2013-06-20","q":546},{"d":"2013-06-24","q":371},{"d":"2013-06-28","q":161},{"d":"2013-07-04","q":91},{"d":"2013-07-14","q":56},{"d":"2013-07-23","q":161},{"d":"2013-07-26","q":68},{"d":"2013-08-05","q":44},{"d":"2013-08-11","q":138},{"d":"2013-08-14","q":44},{"d":"2013-08-27","q":26},{"d":"2013-09-08","q":33},{"d":"2013-09-14","q":103},{"d":"2013-09-17","q":33},{"d":"2013-09-30","q":26},{"d":"2013-10-15","q":33},{"d":"2013-10-27","q":37},{"d":"2013-11-10","q":44},{"d":"2013-11-23","q":56},{"d":"2013-12-02","q":91},{"d":"2013-12-08","q":114},{"d":"2013-12-15","q":68},{"d":"2013-12-23","q":138},{"d":"2013-12-27","q":91},{"d":"2014-01-06","q":91},{"d":"2014-01-12","q":161},{"d":"2014-01-15","q":138},{"d":"2014-01-21","q":91},{"d":"2014-01-31","q":56},{"d":"2014-02-09","q":79},{"d":"2014-02-18","q":68},{"d":"2014-02-27","q":114},{"d":"2014-03-08","q":91},{"d":"2014-03-14","q":138},{"d":"2014-03-19","q":254},{"d":"2014-03-24","q":138},{"d":"2014-03-27","q":604},{"d":"2014-03-31","q":1020},{"d":"2014-04-02","q":651},{"d":"2014-04-05","q":371},{"d":"2014-04-08","q":278},{"d":"2014-04-13","q":161},{"d":"2014-04-17","q":208},{"d":"2014-04-20","q":114},{"d":"2014-04-24","q":161},{"d":"2014-04-27","q":173},{"d":"2014-04-30","q":161}
]
},
"spacing": 71,
"bounds": "flush",
"vconcat": [
{
"width": 1118, "height": 358,
"title": {"text": "A. Stow", "anchor": "start", "frame": "group", "dx": 9, "offset": -17, "baseline": "alphabetic", "font": "Liberation Sans", "fontSize": 21, "fontWeight": "bold", "color": "#231f20"},
"layer": [
{"data": {"name": "stowQ"}, "mark": {"type": "area", "color": "#bcbec0"},
 "encoding": {
  "x": {"field": "d", "type": "temporal", "scale": {"type": "utc", "domain": [{"year": 2008, "month": 9, "date": 1, "utc": true}, {"year": 2014, "month": 6, "date": 1, "utc": true}]},
   "axis": {"orient": "bottom", "tickCount": {"interval": "month", "step": 1}, "tickSize": {"condition": {"test": "indexof([1,5,9], utcmonth(datum.value)) >= 0", "value": -10}, "value": -5}, "labels": false, "domainColor": "#231f20", "domainWidth": 2, "tickColor": "#231f20", "tickWidth": 1.5, "grid": false, "title": null}},
  "y": {"field": "q", "type": "quantitative", "scale": {"domain": [0, 2500], "nice": false},
   "axis": {"orient": "right", "values": [0,250,500,750,1000,1250,1500,1750,2000,2250,2500], "labelExpr": "datum.value % 500 == 0 ? format(datum.value, ',') : ''", "tickSize": {"condition": {"test": "datum.value % 500 == 0", "value": -11}, "value": -7}, "labelPadding": 22, "labelFont": "DejaVu Sans Condensed", "labelFontSize": 17, "labelColor": "#231f20", "labelOverlap": false, "labelFlush": false, "domainColor": "#231f20", "domainWidth": 2, "tickColor": "#231f20", "tickWidth": 1.5, "grid": false,
    "title": "Streamflow, in cubic feet per second", "titleFont": "Liberation Sans", "titleFontSize": 21.5, "titleFontWeight": "normal", "titleColor": "#231f20", "titleAngle": -90, "titleX": 100, "titleY": 390, "titleAlign": "center", "titleBaseline": "alphabetic"}}
 }},
{"data": {"name": "upg"}, "mark": {"type": "rule", "strokeDash": [11, 5], "color": "#9d9fa2", "strokeWidth": 1.5},
 "encoding": {"x": {"field": "d", "type": "temporal", "scale": {"type": "utc"}, "axis": null}}},
{"data": {"name": "stowC"}, "mark": {"type": "square", "size": 100, "color": "#0f4d87", "opacity": 1},
 "encoding": {
  "x": {"field": "d", "type": "temporal", "scale": {"type": "utc"},
   "axis": {"orient": "top", "tickCount": {"interval": "month", "step": 1}, "tickSize": {"condition": {"test": "indexof([1,5,9], utcmonth(datum.value)) >= 0", "value": -10}, "value": -5}, "labels": false, "domainColor": "#231f20", "domainWidth": 2, "tickColor": "#231f20", "tickWidth": 1.5, "grid": false, "title": null}},
  "y": {"field": "c", "type": "quantitative", "scale": {"domain": [0, 0.1], "nice": false},
   "axis": {"orient": "left", "values": [0,0.01,0.02,0.03,0.04,0.05,0.06,0.07,0.08,0.09,0.1], "labelExpr": "round(datum.value*100) % 2 == 0 ? format(datum.value, '.2f') : ''", "tickSize": {"condition": {"test": "round(datum.value*100) % 2 == 0", "value": -11}, "value": -7}, "labelPadding": 32, "labelFont": "DejaVu Sans Condensed", "labelFontSize": 17, "labelColor": "#231f20", "labelOverlap": false, "labelFlush": false, "domainColor": "#231f20", "domainWidth": 2, "tickColor": "#231f20", "tickWidth": 1.5, "grid": false,
    "title": "Orthophosphate concentration, in milligrams per liter as phosphorus", "titleFont": "Liberation Sans", "titleFontSize": 21.5, "titleFontWeight": "normal", "titleColor": "#231f20", "titleAngle": -90, "titleX": -79, "titleY": 417, "titleAlign": "center", "titleBaseline": "alphabetic"}}
 }},
{"data": {"name": "upg"}, "mark": {"type": "text", "align": "right", "dx": -18, "baseline": "alphabetic", "font": "Liberation Sans", "fontSize": 19, "color": "#231f20"},
 "encoding": {"x": {"field": "d", "type": "temporal", "scale": {"type": "utc"}, "axis": null}, "y": {"datum": 0.09, "type": "quantitative", "scale": {"domain": [0, 0.1], "nice": false}, "axis": null}, "text": {"value": "Before upgrades"}}},
{"data": {"name": "upg"}, "mark": {"type": "text", "align": "left", "dx": 15, "baseline": "alphabetic", "font": "Liberation Sans", "fontSize": 19, "color": "#231f20"},
 "encoding": {"x": {"field": "d", "type": "temporal", "scale": {"type": "utc"}, "axis": null}, "y": {"datum": 0.09, "type": "quantitative", "scale": {"domain": [0, 0.1], "nice": false}, "axis": null}, "text": {"value": "After upgrades"}}}
],
"resolve": {"scale": {"y": "independent"}, "axis": {"x": "independent", "y": "independent"}}
},
{
"width": 1118, "height": 357,
"title": {"text": "B. Maynard", "anchor": "start", "frame": "group", "dx": 9, "offset": -22, "baseline": "alphabetic", "font": "Liberation Sans", "fontSize": 21, "fontWeight": "bold", "color": "#231f20"},
"layer": [
{"data": {"name": "mayQ"}, "mark": {"type": "area", "color": "#bcbec0"},
 "encoding": {
  "x": {"field": "d", "type": "temporal", "scale": {"type": "utc", "domain": [{"year": 2008, "month": 9, "date": 1, "utc": true}, {"year": 2014, "month": 6, "date": 1, "utc": true}]},
   "axis": {"orient": "bottom", "tickCount": {"interval": "month", "step": 1}, "tickSize": {"condition": {"test": "indexof([1,5,9], utcmonth(datum.value)) >= 0", "value": -10}, "value": -5}, "labels": true, "labelExpr": "indexof([1,5,9], utcmonth(datum.value)) >= 0 ? utcFormat(datum.value, '%-m/%-d/%Y') : ''", "labelAngle": -90, "labelPadding": 13, "labelFont": "DejaVu Sans Condensed", "labelFontSize": 17, "labelColor": "#231f20", "labelFlush": false, "labelOverlap": false, "labelBound": false, "domainColor": "#231f20", "domainWidth": 2, "tickColor": "#231f20", "tickWidth": 1.5, "grid": false, "title": null}},
  "y": {"field": "q", "type": "quantitative", "scale": {"domain": [0, 2500], "nice": false},
   "axis": {"orient": "right", "values": [0,250,500,750,1000,1250,1500,1750,2000,2250,2500], "labelExpr": "datum.value % 500 == 0 ? format(datum.value, ',') : ''", "tickSize": {"condition": {"test": "datum.value % 500 == 0", "value": -11}, "value": -7}, "labelPadding": 22, "labelFont": "DejaVu Sans Condensed", "labelFontSize": 17, "labelColor": "#231f20", "labelOverlap": false, "labelFlush": false, "domainColor": "#231f20", "domainWidth": 2, "tickColor": "#231f20", "tickWidth": 1.5, "grid": false, "title": null}}
 }},
{"data": {"name": "upg"}, "mark": {"type": "rule", "strokeDash": [11, 5], "color": "#9d9fa2", "strokeWidth": 1.5},
 "encoding": {"x": {"field": "d", "type": "temporal", "scale": {"type": "utc"}, "axis": null}}},
{"data": {"name": "mayC"}, "mark": {"type": "square", "size": 100, "color": "#0f4d87", "opacity": 1},
 "encoding": {
  "x": {"field": "d", "type": "temporal", "scale": {"type": "utc"},
   "axis": {"orient": "top", "tickCount": {"interval": "month", "step": 1}, "tickSize": {"condition": {"test": "indexof([1,5,9], utcmonth(datum.value)) >= 0", "value": -10}, "value": -5}, "labels": false, "domainColor": "#231f20", "domainWidth": 2, "tickColor": "#231f20", "tickWidth": 1.5, "grid": false, "title": null}},
  "y": {"field": "c", "type": "quantitative", "scale": {"domain": [0, 0.1], "nice": false},
   "axis": {"orient": "left", "values": [0,0.01,0.02,0.03,0.04,0.05,0.06,0.07,0.08,0.09,0.1], "labelExpr": "round(datum.value*100) % 2 == 0 ? format(datum.value, '.2f') : ''", "tickSize": {"condition": {"test": "round(datum.value*100) % 2 == 0", "value": -11}, "value": -7}, "labelPadding": 32, "labelFont": "DejaVu Sans Condensed", "labelFontSize": 17, "labelColor": "#231f20", "labelOverlap": false, "labelFlush": false, "domainColor": "#231f20", "domainWidth": 2, "tickColor": "#231f20", "tickWidth": 1.5, "grid": false, "title": null}}
 }},
{"data": {"name": "upg"}, "mark": {"type": "text", "align": "right", "dx": -18, "baseline": "alphabetic", "font": "Liberation Sans", "fontSize": 19, "color": "#231f20"},
 "encoding": {"x": {"field": "d", "type": "temporal", "scale": {"type": "utc"}, "axis": null}, "y": {"datum": 0.0886, "type": "quantitative", "scale": {"domain": [0, 0.1], "nice": false}, "axis": null}, "text": {"value": "Before upgrades"}}},
{"data": {"name": "upg"}, "mark": {"type": "text", "align": "left", "dx": 15, "baseline": "alphabetic", "font": "Liberation Sans", "fontSize": 19, "color": "#231f20"},
 "encoding": {"x": {"field": "d", "type": "temporal", "scale": {"type": "utc"}, "axis": null}, "y": {"datum": 0.0886, "type": "quantitative", "scale": {"domain": [0, 0.1], "nice": false}, "axis": null}, "text": {"value": "After upgrades"}}}
],
"resolve": {"scale": {"y": "independent"}, "axis": {"x": "independent", "y": "independent"}}
}
]
}
